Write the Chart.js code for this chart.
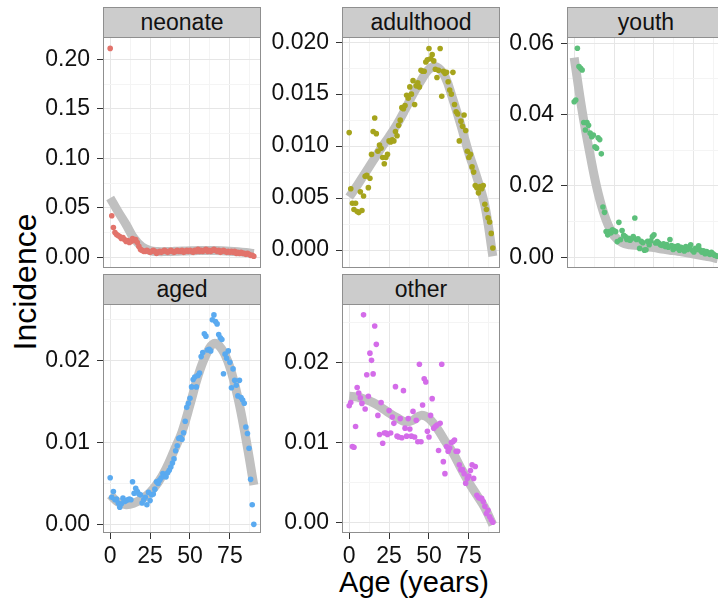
<!DOCTYPE html>
<html>
<head>
<meta charset="utf-8">
<script src="https://cdn.jsdelivr.net/npm/chart.js@4.4.0/dist/chart.umd.min.js"></script>
<style>
  html, body { margin: 0; padding: 0; overflow: hidden; background: #fff; }
  body { position: relative; width: 718px; height: 603px; font-family: 'Liberation Sans', Arial, Helvetica, sans-serif; color: #111; }
  canvas { position: absolute; }
  .strip {
    position: absolute; box-sizing: border-box;
    background: #cccccc; border: 1px solid #8f8f8f;
    text-align: center; font-size: 23px; line-height: 29px; color: #111;
  }
  .title { position: absolute; text-align: center; color: #000; }
  #ylab { left: -125px; top: 264px; width: 300px; font-size: 32px; line-height: 36px; transform: rotate(-90deg); }
  #xlab { left: 264px; top: 568px; width: 300px; font-size: 29px; line-height: 29px; }
</style>
</head>
<body>
<div class="title" id="ylab">Incidence</div>
<div class="title" id="xlab">Age (years)</div>

<script>
// ─── DATA ────────────────────────────────────────────
const ages = [
  0, 1, 2, 3, 4, 5, 6, 7, 8, 9, 10, 11, 12, 13, 14, 15, 16, 17, 18, 19,
  20, 21, 22, 23, 24, 25, 26, 27, 28, 29, 30, 31, 32, 33, 34, 35, 36, 37, 38, 39,
  40, 41, 42, 43, 44, 45, 46, 47, 48, 49, 50, 51, 52, 53, 54, 55, 56, 57, 58, 59,
  60, 61, 62, 63, 64, 65, 66, 67, 68, 69, 70, 71, 72, 73, 74, 75, 76, 77, 78, 79,
  80, 81, 82, 83, 84, 85, 86, 87, 88, 89, 90
];
const smoothAges = [0, 5, 10, 15, 20, 25, 30, 35, 40, 45, 50, 55, 60, 65, 70, 75, 80, 85, 90];

const neonateIncidence = [
  0.211, 0.042, 0.030, 0.025, 0.023, 0.022, 0.021, 0.019, 0.020, 0.018,
  0.016, 0.017, 0.015, 0.016, 0.019, 0.017, 0.018, 0.015, 0.011, 0.008,
  0.007, 0.006, 0.006, 0.007, 0.006, 0.005, 0.006, 0.007, 0.006, 0.004,
  0.005, 0.006, 0.005, 0.006, 0.007, 0.006, 0.005, 0.006, 0.007, 0.006,
  0.005, 0.006, 0.007, 0.006, 0.006, 0.007, 0.005, 0.006, 0.007, 0.006,
  0.007, 0.006, 0.005, 0.007, 0.006, 0.008, 0.006, 0.007, 0.006, 0.007,
  0.008, 0.006, 0.007, 0.006, 0.007, 0.008, 0.007, 0.006, 0.007, 0.005,
  0.006, 0.007, 0.006, 0.005, 0.006, 0.005, 0.006, 0.005, 0.006, 0.004,
  0.005, 0.004, 0.005, 0.004, 0.004, 0.003, 0.004, 0.003, 0.002, 0.002,
  0.001
];
const neonateSmooth = [
  0.060, 0.046, 0.033, 0.019, 0.0105, 0.0068, 0.0058, 0.0058, 0.0060, 0.0063,
  0.0066, 0.0068, 0.0069, 0.0068, 0.0066, 0.0062, 0.0056, 0.0048, 0.0038
];

const adulthoodIncidence = [
  0.0113, 0.0059, 0.0045, 0.0039, 0.0045, 0.0037, 0.0036, 0.0056, 0.0038, 0.0052,
  0.0071, 0.0072, 0.0060, 0.0069, 0.0092, 0.0114, 0.0127, 0.0112, 0.0095, 0.0101,
  0.0098, 0.0089, 0.0083, 0.0089, 0.0092, 0.0105, 0.0104, 0.0106, 0.0105, 0.0114,
  0.0110, 0.0120, 0.0125, 0.0137, 0.0136, 0.0139, 0.0149, 0.0146, 0.0157, 0.0150,
  0.0163, 0.0140, 0.0158, 0.0161, 0.0157, 0.0173, 0.0172, 0.0172, 0.0181, 0.0183,
  0.0194, 0.0184, 0.0188, 0.0182, 0.0174, 0.0166, 0.0173, 0.0194, 0.0148, 0.0172,
  0.0170, 0.0171, 0.0162, 0.0154, 0.0150, 0.0171, 0.0140, 0.0133, 0.0131, 0.0105,
  0.0124, 0.0119, 0.0130, 0.0115, 0.0095, 0.0089, 0.0092, 0.0080, 0.0075, 0.0062,
  0.0060, 0.0055, 0.0061, 0.0059, 0.0062, 0.0044, 0.0039, 0.0031, 0.0027, 0.0016,
  0.0002
];
const adulthoodSmooth = [
  0.0051, 0.0062, 0.0074, 0.0086, 0.0098, 0.0109, 0.0121, 0.0135, 0.0150, 0.0163,
  0.0174, 0.0176, 0.0167, 0.0145, 0.0120, 0.0093, 0.0070, 0.0043, -0.0006
];

const youthIncidence = [
  0.0436, 0.0441, 0.0586, 0.0535, 0.0530, 0.0525, 0.0378, 0.0357, 0.0378, 0.0370,
  0.0348, 0.0338, 0.0343, 0.0310, 0.0306, 0.0335, 0.0330, 0.0290, 0.0141, 0.0126,
  0.0072, 0.0063, 0.0072, 0.0068, 0.0077, 0.0074, 0.0072, 0.0044, 0.0098, 0.0049,
  0.0075, 0.0062, 0.0058, 0.0050, 0.0053, 0.0048, 0.0052, 0.0058, 0.0110, 0.0050,
  0.0052, 0.0025, 0.0045, 0.0041, 0.0020, 0.0021, 0.0045, 0.0035, 0.0046, 0.0058,
  0.0063, 0.0040, 0.0044, 0.0040, 0.0035, 0.0033, 0.0038, 0.0030, 0.0036, 0.0028,
  0.0050, 0.0033, 0.0022, 0.0030, 0.0026, 0.0032, 0.0020, 0.0028, 0.0025, 0.0018,
  0.0030, 0.0022, 0.0028, 0.0035, 0.0020, 0.0015, 0.0025, 0.0022, 0.0032, 0.0020,
  0.0014, 0.0018, 0.0010, 0.0016, 0.0012, 0.0008, 0.0014, 0.0010, 0.0006, 0.0004,
  0.0003
];
const youthSmooth = [
  0.0560, 0.0410, 0.0287, 0.0180, 0.0105, 0.0060, 0.0041, 0.0035, 0.0033, 0.0030,
  0.0027, 0.0023, 0.0020, 0.0017, 0.0013, 0.0009, 0.0005, 0.0001, -0.0004
];

const agedIncidence = [
  0.0057, 0.0033, 0.0040, 0.0030, 0.0031, 0.0026, 0.0021, 0.0025, 0.0032, 0.0028,
  0.0029, 0.0030, 0.0031, 0.0030, 0.0052, 0.0038, 0.0044, 0.0040, 0.0037, 0.0036,
  0.0026, 0.0030, 0.0033, 0.0024, 0.0039, 0.0029, 0.0036, 0.0037, 0.0043, 0.0052,
  0.0050, 0.0054, 0.0057, 0.0062, 0.0059, 0.0058, 0.0063, 0.0066, 0.0070, 0.0075,
  0.0080, 0.0090, 0.0096, 0.0105, 0.0106, 0.0104, 0.0112, 0.0126, 0.0143, 0.0148,
  0.0154, 0.0168, 0.0177, 0.0180, 0.0168, 0.0182, 0.0185, 0.0205, 0.0210, 0.0233,
  0.0230, 0.0213, 0.0214, 0.0212, 0.0250, 0.0256, 0.0248, 0.0245, 0.0232, 0.0228,
  0.0226, 0.0184, 0.0208, 0.0203, 0.0212, 0.0198, 0.0167, 0.0190, 0.0176, 0.0170,
  0.0157, 0.0176, 0.0155, 0.0152, 0.0148, 0.0119, 0.0111, 0.0093, 0.0055, 0.0024,
  0.0000
];
const agedSmooth = [
  0.0036, 0.0027, 0.0024, 0.0026, 0.0031, 0.0039, 0.0051, 0.0068, 0.0090, 0.0113,
  0.0146, 0.0181, 0.0207, 0.0221, 0.0214, 0.0192, 0.0155, 0.0105, 0.0048
];

const otherIncidence = [
  0.0146, 0.0150, 0.0095, 0.0094, 0.0120, 0.0169, 0.0162, 0.0156, 0.0149, 0.0260,
  0.0142, 0.0185, 0.0158, 0.0212, 0.0203, 0.0186, 0.0246, 0.0223, 0.0134, 0.0110,
  0.0150, 0.0099, 0.0112, 0.0112, 0.0110, 0.0140, 0.0112, 0.0132, 0.0124, 0.0170,
  0.0108, 0.0107, 0.0130, 0.0106, 0.0165, 0.0118, 0.0108, 0.0130, 0.0117, 0.0108,
  0.0139, 0.0107, 0.0128, 0.0101, 0.0198, 0.0101, 0.0147, 0.0180, 0.0176, 0.0114,
  0.0107, 0.0134, 0.0155, 0.0118, 0.0120, 0.0122, 0.0090, 0.0124, 0.0198, 0.0076,
  0.0061, 0.0095, 0.0089, 0.0093, 0.0100, 0.0101, 0.0103, 0.0089, 0.0089, 0.0072,
  0.0066, 0.0066, 0.0061, 0.0049, 0.0055, 0.0058, 0.0065, 0.0072, 0.0055, 0.0070,
  0.0034, 0.0031, 0.0030, 0.0030, 0.0026, 0.0020, 0.0011, 0.0015, 0.0007, 0.0003,
  0.0000
];
const otherSmooth = [
  0.0158, 0.0157, 0.0154, 0.0150, 0.0144, 0.0137, 0.0131, 0.0126, 0.0128, 0.0134,
  0.0130, 0.0118, 0.0102, 0.0087, 0.0068, 0.0050, 0.0034, 0.0018, -0.0003
];

// tick labels
const xTicks = [0, 25, 50, 75];
const xTickLabels = ['0', '25', '50', '75'];
const xMinor = [12.5, 37.5, 62.5, 87.5];

const neonateTicks = [0, 0.05, 0.10, 0.15, 0.20];
const neonateTickLabels = ['0.00', '0.05', '0.10', '0.15', '0.20'];
const neonateMinor = [0.025, 0.075, 0.125, 0.175];

const adulthoodTicks = [0, 0.005, 0.010, 0.015, 0.020];
const adulthoodTickLabels = ['0.000', '0.005', '0.010', '0.015', '0.020'];
const adulthoodMinor = [0.0025, 0.0075, 0.0125, 0.0175];

const youthTicks = [0, 0.02, 0.04, 0.06];
const youthTickLabels = ['0.00', '0.02', '0.04', '0.06'];
const youthMinor = [0.01, 0.03, 0.05];

const agedTicks = [0, 0.01, 0.02];
const agedTickLabels = ['0.00', '0.01', '0.02'];
const agedMinor = [0.005, 0.015, 0.025];

const otherTicks = [0, 0.01, 0.02];
const otherTickLabels = ['0.00', '0.01', '0.02'];
const otherMinor = [0.005, 0.015, 0.025];


// ─── LAYOUT ──────────────────────────────────────────
const AXIS_W = 100;       // room left of each panel for y labels
const X_AXIS_H = 44;      // room below bottom panels for x labels
const TOP_PAD = 18;       // room above a panel so the top label isn't cut
const PANEL_W = 158;
const BORDER_COLOR = '#8f8f8f';
const MAJOR_GRID = '#e6e6e6';
const MINOR_GRID = '#f4f4f4';
const SMOOTH_COLOR = '#c0c0c0';

const panels = [
  { name: 'neonate',   values: neonateIncidence,   smooth: neonateSmooth,   color: '#e2736b',
    ticks: neonateTicks, labels: neonateTickLabels, minor: neonateMinor,
    yMin: -0.0108, yMax: 0.2225, left: 103, top: 37, h: 231, bottom: false },
  { name: 'adulthood', values: adulthoodIncidence, smooth: adulthoodSmooth, color: '#a6a41c',
    ticks: adulthoodTicks, labels: adulthoodTickLabels, minor: adulthoodMinor,
    yMin: -0.00173, yMax: 0.0205, left: 342, top: 37, h: 231, bottom: false },
  { name: 'youth',     values: youthIncidence,     smooth: youthSmooth,     color: '#5cbf7a',
    ticks: youthTicks, labels: youthTickLabels, minor: youthMinor,
    yMin: -0.0030, yMax: 0.06176, left: 567, top: 37, h: 231, bottom: false },
  { name: 'aged',      values: agedIncidence,      smooth: agedSmooth,      color: '#5aaaf0',
    ticks: agedTicks, labels: agedTickLabels, minor: agedMinor,
    yMin: -0.00106, yMax: 0.02693, left: 103, top: 304, h: 229, bottom: true },
  { name: 'other',     values: otherIncidence,     smooth: otherSmooth,     color: '#d46ce9',
    ticks: otherTicks, labels: otherTickLabels, minor: otherMinor,
    yMin: -0.00134, yMax: 0.02736, left: 342, top: 304, h: 229, bottom: true },
];

Chart.defaults.font.family = "'Liberation Sans', Arial, Helvetica, sans-serif";
Chart.defaults.color = '#111';

// panel border drawn over the data, like ggplot's theme_bw
const panelBorder = {
  id: 'panelBorder',
  afterDraw(chart) {
    const { ctx, chartArea: a } = chart;
    ctx.save();
    ctx.strokeStyle = BORDER_COLOR;
    ctx.lineWidth = 1;
    ctx.strokeRect(a.left + 0.5, a.top + 0.5, a.width - 1, a.height - 1);
    ctx.restore();
  }
};

function labelFrom(list, labels) {
  return (v) => {
    const i = list.indexOf(v);
    return i >= 0 ? labels[i] : '';
  };
}

panels.forEach(p => {
  // strip
  const strip = document.createElement('div');
  strip.className = 'strip';
  strip.textContent = p.name;
  strip.style.left = p.left + 'px';
  strip.style.top = (p.top - 30) + 'px';
  strip.style.width = PANEL_W + 'px';
  strip.style.height = '31px';

  // canvas (sits under the strip, which is appended after it)
  const cv = document.createElement('canvas');
  const cw = PANEL_W + AXIS_W;
  const ch = TOP_PAD + p.h + (p.bottom ? X_AXIS_H : 0);
  cv.width = cw; cv.height = ch;
  cv.style.width = cw + 'px'; cv.style.height = ch + 'px';
  cv.style.left = (p.left - AXIS_W) + 'px';
  cv.style.top = (p.top - TOP_PAD) + 'px';
  document.body.appendChild(cv);
  document.body.appendChild(strip);

  const yGrid = p.ticks.concat(p.minor);
  const xGrid = xTicks.concat(xMinor);

  new Chart(cv.getContext('2d'), {
    type: 'scatter',
    data: {
      datasets: [
        {
          label: p.name,
          data: ages.map((a, i) => ({ x: a, y: p.values[i] })),
          backgroundColor: p.color,
          borderWidth: 0,
          pointRadius: 2.8,
        },
        {
          type: 'line',
          label: p.name + ' smooth',
          data: smoothAges.map((a, i) => ({ x: a, y: p.smooth[i] })),
          showLine: true,
          borderColor: SMOOTH_COLOR,
          borderWidth: 9,
          pointRadius: 0,
          tension: 0.4,
          fill: false,
        },
      ],
    },
    options: {
      responsive: false,
      animation: false,
      devicePixelRatio: 1,
      layout: { padding: { top: TOP_PAD, left: 0, right: 0, bottom: 0 }, autoPadding: false },
      plugins: { legend: { display: false }, tooltip: { enabled: false } },
      scales: {
        x: {
          type: 'linear', min: -4.5, max: 94.5,
          afterBuildTicks: ax => { ax.ticks = xGrid.map(v => ({ value: v })); },
          afterFit: ax => {
            ax.height = p.bottom ? X_AXIS_H : 0;
            ax.paddingLeft = 0; ax.paddingRight = 0;
          },
          ticks: {
            display: p.bottom, autoSkip: false, maxRotation: 0, padding: 4,
            color: '#111', font: { size: 23 },
            callback: labelFrom(xTicks, xTickLabels),
          },
          grid: {
            drawTicks: p.bottom, tickLength: 6,
            color: c => xTicks.includes(c.tick.value) ? MAJOR_GRID : MINOR_GRID,
            tickColor: c => xTicks.includes(c.tick.value) ? '#333' : 'rgba(0,0,0,0)',
          },
          border: { display: false },
        },
        y: {
          type: 'linear', min: p.yMin, max: p.yMax,
          afterBuildTicks: ax => { ax.ticks = yGrid.map(v => ({ value: v })); },
          afterFit: ax => {
            ax.width = AXIS_W;
            ax.paddingTop = 0; ax.paddingBottom = 0;
          },
          ticks: {
            autoSkip: false, padding: 7,
            color: '#111', font: { size: 23 },
            callback: labelFrom(p.ticks, p.labels),
          },
          grid: {
            tickLength: 6,
            color: c => p.ticks.includes(c.tick.value) ? MAJOR_GRID : MINOR_GRID,
            tickColor: c => p.ticks.includes(c.tick.value) ? '#333' : 'rgba(0,0,0,0)',
          },
          border: { display: false },
        },
      },
    },
    plugins: [panelBorder],
  });
});
</script>
</body>
</html>
